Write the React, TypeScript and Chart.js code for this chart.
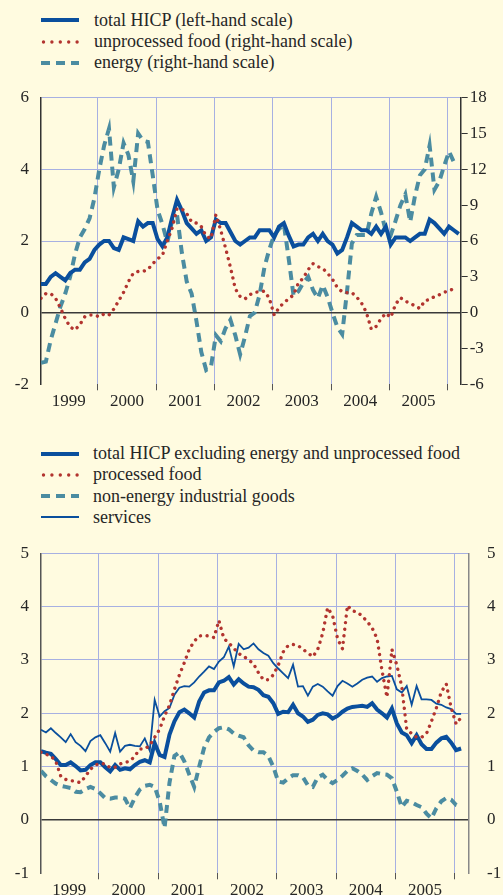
import React, { useEffect, useRef } from 'react';
import { Chart, registerables } from 'chart.js';

Chart.register(...registerables);

// ---------- data (monthly, Jan 1999 onwards) ----------
const yearLabels = ['1999', '2000', '2001', '2002', '2003', '2004', '2005'];

const topSeriesNames = [
  'total HICP (left-hand scale)',
  'unprocessed food (right-hand scale)',
  'energy (right-hand scale)',
];

const bottomSeriesNames = [
  'total HICP excluding energy and unprocessed food',
  'processed food',
  'non-energy industrial goods',
  'services',
];

const topTotalHICP = [
  0.8, 0.8, 1.0, 1.1, 1.0, 0.9, 1.1, 1.2, 1.2, 1.4, 1.5, 1.75,
  1.9, 2.0, 2.0, 1.8, 1.75, 2.1, 2.05, 2.0, 2.55, 2.4, 2.5, 2.5,
  2.05, 1.85, 2.1, 2.65, 3.15, 2.85, 2.5, 2.35, 2.2, 2.3, 2.0, 2.1,
  2.6, 2.5, 2.5, 2.25, 2.0, 1.9, 2.0, 2.1, 2.1, 2.3, 2.3, 2.3,
  2.1, 2.4, 2.5, 2.15, 1.85, 1.9, 1.9, 2.1, 2.2, 2.0, 2.2, 2.0,
  1.9, 1.65, 1.75, 2.1, 2.5, 2.4, 2.3, 2.3, 2.2, 2.4, 2.2, 2.4,
  1.9, 2.1, 2.1, 2.1, 2.0, 2.1, 2.2, 2.2, 2.6, 2.5, 2.35, 2.2,
  2.4, 2.3, 2.2,
];

const topUnprocessedFood = [
  1.2, 1.6, 1.6, 1.2, 0.4, -0.5, -1.2, -1.45, -1.0, -0.35, -0.2, -0.2,
  -0.35, -0.1, -0.2, 0.3, 1.0, 1.7, 2.6, 3.3, 3.45, 3.45, 3.6, 4.1,
  4.5, 4.8, 6.0, 7.1, 8.7, 8.7, 8.3, 7.6, 7.5, 7.2, 6.4, 6.2,
  8.2, 6.9, 5.4, 3.8, 2.0, 1.35, 1.15, 1.5, 1.7, 1.75, 1.8, 1.2,
  -0.2, 0.4, 0.85, 1.15, 1.5, 2.5, 2.9, 3.6, 4.1, 3.85, 3.7, 3.3,
  2.8, 2.1, 1.75, 1.67, 1.67, 1.3, 0.8, 0.0, -1.4, -1.15, -0.5, -0.05,
  -0.4, 0.7, 1.25, 0.95, 0.8, 0.55, 0.35, 1.0, 1.1, 1.35, 1.5, 1.7,
  1.85, 2.0,
];

const topEnergy = [
  -4.2, -4.1, -2.3, -0.9, 0.5, 1.6, 3.0, 4.9, 6.3, 7.0, 7.9, 9.6,
  12.0, 14.0, 15.4, 10.5, 12.0, 14.2, 13.2, 11.0, 15.0, 14.4, 14.3, 11.5,
  8.6, 7.4, 5.9, 7.7, 8.2, 5.0, 2.6, 1.6, -0.7, -3.3, -4.8, -4.5,
  -1.9, -2.4, -1.3, -0.6, -1.9, -3.5, -2.0, -0.3, 0.0, 1.5, 3.8, 5.3,
  6.5, 7.0, 7.4, 4.5, 1.4, 1.8, 2.5, 3.0, 1.9, 1.2, 2.3, 1.3,
  0.0, -1.2, -1.8, 1.8, 5.8, 6.5, 6.5, 6.5, 8.3, 9.7, 8.4, 6.8,
  6.5, 7.7, 9.0, 9.9, 7.6, 9.8, 11.5, 12.0, 14.0, 10.3, 11.0, 12.3,
  13.5, 12.6,
];

const bottomCore = [
  1.29, 1.26, 1.24, 1.14, 1.03, 1.03, 1.08, 1.01, 0.93, 0.94, 1.03, 1.08,
  1.08, 0.99, 0.91, 1.03, 0.94, 0.97, 0.95, 1.03, 1.09, 1.12, 1.08, 1.44,
  1.22, 1.18, 1.6, 1.85, 2.02, 2.07, 2.0, 1.92, 2.22, 2.39, 2.43, 2.43,
  2.58, 2.61, 2.68, 2.54, 2.64, 2.56, 2.5, 2.49, 2.44, 2.34, 2.31, 2.19,
  1.99, 2.03, 2.02, 2.16, 2.0, 1.94, 1.84, 1.88, 1.97, 2.0, 1.98, 1.9,
  1.95, 2.03, 2.09, 2.12, 2.13, 2.14, 2.12, 2.19, 2.07, 2.0, 1.92, 2.09,
  1.81, 1.64, 1.59, 1.44, 1.59, 1.42, 1.33, 1.33, 1.45, 1.53, 1.56, 1.45,
  1.31, 1.34,
];

const bottomProcessedFood = [
  1.27, 1.23, 1.2, 1.1, 0.82, 0.76, 0.74, 0.72, 0.7, 0.82, 0.95, 1.03,
  1.06, 1.05, 0.98, 0.99, 1.05, 1.08, 1.1, 1.2, 1.33, 1.33, 1.4, 1.55,
  1.7, 1.95, 2.15, 2.45, 2.72, 2.95, 3.2, 3.35, 3.45, 3.46, 3.45, 3.42,
  3.74, 3.4, 3.32, 3.22, 3.12, 3.07, 3.0, 2.93, 2.76, 2.63, 2.63, 2.72,
  2.9, 3.15, 3.27, 3.29, 3.27, 3.2, 3.13, 3.06, 3.2, 3.5, 3.98, 3.83,
  3.4, 3.21, 4.02, 3.92, 3.9, 3.82, 3.72, 3.6, 3.4, 2.8, 2.3, 3.2,
  2.9, 2.5, 1.7, 1.62, 1.55, 1.55, 1.62, 1.85, 2.1, 2.4, 2.55, 2.1,
  1.8, 1.92,
];

const bottomNonEnergyIndustrial = [
  0.92, 0.82, 0.75, 0.68, 0.64, 0.62, 0.6, 0.53, 0.52, 0.58, 0.62, 0.58,
  0.5, 0.41, 0.4, 0.42, 0.42, 0.4, 0.22, 0.42, 0.57, 0.64, 0.66, 0.62,
  0.35, -0.15, 0.7, 1.2, 1.27, 1.1, 0.85, 0.62, 1.0, 1.35, 1.55, 1.65,
  1.72, 1.74, 1.7, 1.62, 1.58, 1.55, 1.4, 1.3, 1.27, 1.27, 1.2, 1.0,
  0.72, 0.7, 0.78, 0.84, 0.84, 0.8, 0.65, 0.62, 0.8, 0.85, 0.75, 0.69,
  0.75, 0.83, 0.92, 0.97, 0.92, 0.85, 0.75, 0.82, 0.88, 0.86, 0.85, 0.78,
  0.53, 0.24, 0.36, 0.33, 0.28, 0.24, 0.12, 0.03, 0.22, 0.35, 0.41, 0.38,
  0.28, 0.25,
];

const bottomServices = [
  1.69, 1.64, 1.72, 1.63, 1.55, 1.46, 1.61, 1.46, 1.39, 1.29, 1.48, 1.55,
  1.59, 1.44, 1.28, 1.63, 1.28, 1.39, 1.41, 1.39, 1.38, 1.53, 1.3, 2.25,
  1.94, 2.04, 2.1, 2.35, 2.48, 2.51, 2.5, 2.58, 2.69, 2.78, 2.88, 2.83,
  2.97, 3.05, 3.25, 2.88, 3.3, 3.2, 3.23, 3.31, 3.2, 3.13, 3.08, 2.94,
  2.84, 2.75, 2.66, 2.91, 2.5, 2.51, 2.33, 2.5, 2.55, 2.5, 2.41, 2.33,
  2.51, 2.61, 2.56, 2.5, 2.56, 2.63, 2.67, 2.69, 2.59, 2.66, 2.69, 2.7,
  2.45, 2.39, 2.51, 2.16, 2.51, 2.26, 2.26, 2.25, 2.18, 2.16, 2.11, 2.08,
  1.99, 1.99,
];

// ---------- style ----------
const BG = '#fffbe0';
const GRID = '#a7b0e2';
const BLUE = '#0a4f9d';
const RED = '#b2342f';
const TEAL = '#4b8ca1';
const TEXT = '#262626';
const FONT = '"Liberation Serif", "Times New Roman", serif';
const CLEAR = 'rgba(0,0,0,0)';

const FIRST_BOUNDARY = 11.7; // x position (months) of the first year gridline

const isBoundary = (v: number) => {
  const r = (v - FIRST_BOUNDARY) / 12;
  return Math.abs(r - Math.round(r)) < 1e-6;
};

const toPoints = (arr: number[]) => arr.map((y, x) => ({ x, y }));

function xScale(max: number, height: number) {
  return {
    type: 'linear',
    min: 0,
    max,
    afterBuildTicks: (scale: any) => {
      const t: any[] = [];
      yearLabels.forEach((_, i) => {
        t.push({ value: FIRST_BOUNDARY - 6 + 12 * i });
        t.push({ value: FIRST_BOUNDARY + 12 * i });
      });
      scale.ticks = t;
    },
    afterFit: (scale: any) => {
      scale.height = height;
    },
    border: { display: false },
    grid: {
      color: (ctx: any) => (ctx.tick && isBoundary(ctx.tick.value) ? GRID : CLEAR),
      tickColor: (ctx: any) => (ctx.tick && isBoundary(ctx.tick.value) ? '#555' : CLEAR),
      lineWidth: 1,
      tickLength: 6,
      drawTicks: true,
    },
    ticks: {
      autoSkip: false,
      maxRotation: 0,
      minRotation: 0,
      padding: 1,
      color: TEXT,
      font: { family: FONT, size: 17 },
      callback: (value: number) => {
        const i = Math.round((value - (FIRST_BOUNDARY - 6)) / 12);
        const pos = FIRST_BOUNDARY - 6 + 12 * i;
        return Math.abs(pos - value) < 1e-6 && yearLabels[i] ? yearLabels[i] : '';
      },
    },
  };
}

function leftScale(min: number, max: number, step: number, borderColor: string) {
  return {
    type: 'linear',
    position: 'left',
    min,
    max,
    afterFit: (scale: any) => {
      scale.width = 41;
    },
    border: { display: true, color: borderColor, width: 1.5 },
    grid: {
      drawTicks: true,
      tickLength: 12,
      tickColor: CLEAR,
      color: (ctx: any) => {
        const v = ctx.tick ? ctx.tick.value : NaN;
        if (v === 0) return '#3a3a3a';
        if (v === min) return CLEAR;
        return GRID;
      },
      lineWidth: (ctx: any) => (ctx.tick && ctx.tick.value === 0 ? 1.5 : 1),
    },
    ticks: {
      stepSize: step,
      padding: 0,
      color: TEXT,
      font: { family: FONT, size: 17 },
    },
  };
}

function rightScale(
  min: number,
  max: number,
  step: number,
  width: number,
  tickLength: number,
  tickColor: string,
  borderColor: string,
  padding: number,
) {
  return {
    type: 'linear',
    position: 'right',
    min,
    max,
    afterFit: (scale: any) => {
      scale.width = width;
    },
    border: { display: true, color: borderColor, width: 1.5 },
    grid: {
      drawOnChartArea: false,
      drawTicks: true,
      tickLength,
      tickColor,
      color: tickColor,
    },
    ticks: {
      stepSize: step,
      padding,
      color: TEXT,
      font: { family: FONT, size: 17 },
    },
  };
}

function baseOptions(padTop: number, scales: any) {
  return {
    responsive: false,
    animation: false,
    events: [],
    layout: { padding: { top: padTop, left: 0, right: 0, bottom: 0 } },
    plugins: { legend: { display: false }, tooltip: { enabled: false } },
    elements: { point: { radius: 0, hitRadius: 0 }, line: { tension: 0 } },
    scales,
  };
}

// ---------- chart components ----------
const TOP_CANVAS_TOP = 85;
const TOP_CANVAS_H = 330;
const BOTTOM_CANVAS_TOP = 540;
const BOTTOM_CANVAS_H = 355;

function TopChart() {
  const ref = useRef<HTMLCanvasElement>(null);
  useEffect(() => {
    const chart = new Chart(ref.current as HTMLCanvasElement, {
      type: 'line',
      data: {
        datasets: [
          {
            label: topSeriesNames[0],
            data: toPoints(topTotalHICP),
            yAxisID: 'y',
            borderColor: BLUE,
            borderWidth: 4,
            pointRadius: 0,
            order: 1,
          },
          {
            label: topSeriesNames[1],
            data: toPoints(topUnprocessedFood),
            yAxisID: 'y2',
            borderColor: RED,
            borderWidth: 3.4,
            borderDash: [0.01, 6.6],
            borderCapStyle: 'round',
            pointRadius: 0,
            order: 0,
          },
          {
            label: topSeriesNames[2],
            data: toPoints(topEnergy),
            yAxisID: 'y2',
            borderColor: TEAL,
            borderWidth: 4,
            borderDash: [9, 6],
            pointRadius: 0,
            order: 2,
          },
        ],
      } as any,
      options: baseOptions(12.7, {
        x: xScale(86.4, TOP_CANVAS_H - (384.3 - TOP_CANVAS_TOP)),
        y: leftScale(-2, 6, 2, '#333'),
        y2: rightScale(-6, 18, 3, 503 - 460.7, 7, '#333', '#333', 2),
      }) as any,
    });
    return () => chart.destroy();
  }, []);
  return (
    <canvas
      ref={ref}
      width={503}
      height={TOP_CANVAS_H}
      style={{ position: 'absolute', left: 0, top: TOP_CANVAS_TOP, width: 503, height: TOP_CANVAS_H, display: 'block' }}
    />
  );
}

function BottomChart() {
  const ref = useRef<HTMLCanvasElement>(null);
  useEffect(() => {
    const chart = new Chart(ref.current as HTMLCanvasElement, {
      type: 'line',
      data: {
        datasets: [
          {
            label: bottomSeriesNames[0],
            data: toPoints(bottomCore),
            yAxisID: 'y',
            borderColor: BLUE,
            borderWidth: 4,
            pointRadius: 0,
            order: 1,
          },
          {
            label: bottomSeriesNames[1],
            data: toPoints(bottomProcessedFood),
            yAxisID: 'y',
            borderColor: RED,
            borderWidth: 3.4,
            borderDash: [0.01, 6.6],
            borderCapStyle: 'round',
            pointRadius: 0,
            order: 0,
          },
          {
            label: bottomSeriesNames[2],
            data: toPoints(bottomNonEnergyIndustrial),
            yAxisID: 'y',
            borderColor: TEAL,
            borderWidth: 4,
            borderDash: [8, 5.5],
            pointRadius: 0,
            order: 3,
          },
          {
            label: bottomSeriesNames[3],
            data: toPoints(bottomServices),
            yAxisID: 'y',
            borderColor: BLUE,
            borderWidth: 1.8,
            pointRadius: 0,
            order: 2,
          },
        ],
      } as any,
      options: baseOptions(13.3, {
        x: xScale(86.6, BOTTOM_CANVAS_H - (873.3 - BOTTOM_CANVAS_TOP)),
        y: leftScale(-1, 5, 1, '#555'),
        y2: rightScale(-1, 5, 1, 503 - 469, 18, CLEAR, '#888', 0),
      }) as any,
    });
    return () => chart.destroy();
  }, []);
  return (
    <canvas
      ref={ref}
      width={503}
      height={BOTTOM_CANVAS_H}
      style={{ position: 'absolute', left: 0, top: BOTTOM_CANVAS_TOP, width: 503, height: BOTTOM_CANVAS_H, display: 'block' }}
    />
  );
}

// ---------- legend ----------
type SampleKind = 'thick' | 'thin' | 'dots' | 'dashes';

function Sample({ kind, color }: { kind: SampleKind; color: string }) {
  if (kind === 'dots') {
    return (
      <svg width={44} height={10}>
        {[0, 1, 2, 3, 4].map((i) => (
          <circle key={i} cx={3.5 + i * 8.4} cy={5} r={1.7} fill={color} />
        ))}
      </svg>
    );
  }
  const w = kind === 'thin' ? 2 : 4;
  return (
    <svg width={44} height={10}>
      <line
        x1={1}
        y1={5}
        x2={39}
        y2={5}
        stroke={color}
        strokeWidth={w}
        strokeDasharray={kind === 'dashes' ? '9 6' : undefined}
      />
    </svg>
  );
}

function LegendRow({ y, kind, color, text, textLeft }: { y: number; kind: SampleKind; color: string; text: string; textLeft: number }) {
  return (
    <>
      <div style={{ position: 'absolute', left: 40, top: y - 5, width: 44, height: 10, lineHeight: 0 }}>
        <Sample kind={kind} color={color} />
      </div>
      <div
        style={{
          position: 'absolute',
          left: textLeft,
          top: y - 10.5,
          fontSize: 18,
          lineHeight: '21px',
          whiteSpace: 'nowrap',
          color: TEXT,
          fontFamily: FONT,
        }}
      >
        {text}
      </div>
    </>
  );
}

export default function App() {
  return (
    <div
      style={{
        position: 'absolute',
        left: 0,
        top: 0,
        width: 503,
        height: 895,
        background: BG,
        overflow: 'hidden',
        fontFamily: FONT,
      }}
    >
      <LegendRow y={20} kind="thick" color={BLUE} text={topSeriesNames[0]} textLeft={94} />
      <LegendRow y={41.5} kind="dots" color={RED} text={topSeriesNames[1]} textLeft={94} />
      <LegendRow y={62.7} kind="dashes" color={TEAL} text={topSeriesNames[2]} textLeft={94} />
      <TopChart />
      <LegendRow y={453.5} kind="thick" color={BLUE} text={bottomSeriesNames[0]} textLeft={93} />
      <LegendRow y={474.8} kind="dots" color={RED} text={bottomSeriesNames[1]} textLeft={93} />
      <LegendRow y={496} kind="dashes" color={TEAL} text={bottomSeriesNames[2]} textLeft={93} />
      <LegendRow y={517.3} kind="thin" color={BLUE} text={bottomSeriesNames[3]} textLeft={93} />
      <BottomChart />
    </div>
  );
}
